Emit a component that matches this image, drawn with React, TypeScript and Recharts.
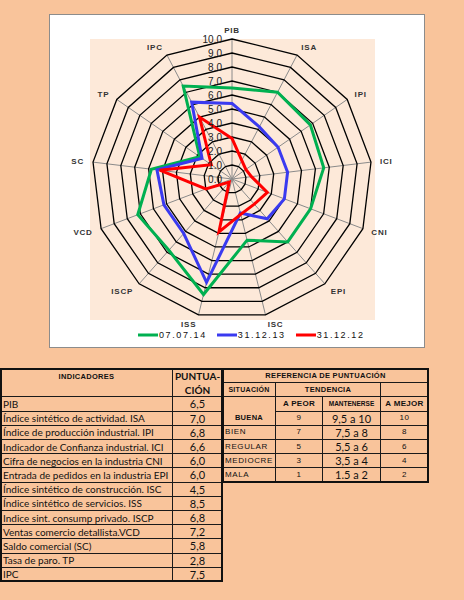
import { PolarAngleAxis, PolarGrid, PolarRadiusAxis, Radar, RadarChart } from "recharts";

// valores (escala 0-10)
const AXES = ["PIB", "ISA", "IPI", "ICI", "CNI", "EPI", "ISC", "ISS", "ISCP", "VCD", "SC", "TP", "IPC"];
const JUL_14 = [6.5, 7.0, 6.8, 6.6, 6.0, 6.0, 4.5, 8.5, 6.8, 7.2, 5.8, 2.8, 7.5];
const DEC_13 = [5.4, 4.2, 4.0, 4.0, 4.0, 3.8, 2.5, 7.6, 5.2, 5.2, 5.4, 2.6, 6.2];
const DEC_12 = [2.9, 1.5, 1.2, 1.4, 2.7, 2.4, 2.6, 3.9, 0.3, 2.0, 5.2, 1.8, 5.0];
const SERIES_NAMES = ["07.07.14", "31.12.13", "31.12.12"];
const SERIES_COLORS = ["#00B050", "#3A3AF0", "#FF0000"];
const RADIUS_TICKS = [0, 1, 2, 3, 4, 5, 6, 7, 8, 9, 10];

// tablas
const INDICATORS = [
  "PIB",
  "Índice sintético de actividad. ISA",
  "Índice de producción industrial. IPI",
  "Indicador de Confianza industrial. ICI",
  "Cifra de negocios en la industria CNI",
  "Entrada de pedidos en la industria EPI",
  "Índice sintético de construcción. ISC",
  "Índice sintético de servicios. ISS",
  "Indice sint. consump privado. ISCP",
  "Ventas comercio detallista.VCD",
  "Saldo comercial (SC)",
  "Tasa de paro. TP",
  "IPC",
];
const SITUACION = ["BUENA", "BIEN", "REGULAR", "MEDIOCRE", "MALA"];
const A_PEOR = ["9", "7", "5", "3", "1"];
const MANTENERSE = ["9,5 a 10", "7,5 a 8", "5,5 a 6", "3,5 a 4", "1.5 a 2"];
const A_MEJOR = ["10", "8", "6", "4", "2"];

const data = AXES.map((axis, i) => ({
  axis,
  jul14: JUL_14[i],
  dec13: DEC_13[i],
  dec12: DEC_12[i],
}));
const SERIES_KEYS = ["jul14", "dec13", "dec12"];

const PEACH = "#F9C49B";
const PLOT_BG = "#FDE9D9";
const SANS = "'Liberation Sans', Arial, sans-serif";
const BODY = "Lato, 'Open Sans', sans-serif";

function AngleTick({ x, y, payload, textAnchor }: any) {
  return (
    <text x={x} y={y} dy={3} textAnchor={textAnchor} fontSize={8} fontWeight="bold"
      fill="#333" letterSpacing={0.8} fontFamily={SANS}>
      {payload.value}
    </text>
  );
}

function RadiusTick({ x, y, payload }: any) {
  return (
    <text x={x - 10} y={y + 4} textAnchor="end" fontSize={10} fill="#222" fontFamily={SANS}>
      {Number(payload.value).toFixed(1)}
    </text>
  );
}

// ── tabla: celdas posicionadas en la rejilla de la hoja ──
const TOP = 368;
const ROW_H = 14.2;
const COL = {
  A: [0, 172],
  B: [172, 222],
  C: [222, 275],
  D: [275, 322],
  E: [322, 380],
  F: [380, 428],
};

function Cell({ c0, c1, r0, r1, children, align = "center", valign = "center", style }: any) {
  const x0 = COL[c0 as keyof typeof COL][0];
  const x1 = COL[c1 as keyof typeof COL][1];
  return (
    <div
      style={{
        position: "absolute",
        left: x0,
        top: TOP + r0 * ROW_H,
        width: x1 - x0 + 1,
        height: (r1 - r0 + 1) * ROW_H + 1,
        boxSizing: "border-box",
        border: "1px solid #1a1a1a",
        display: "flex",
        alignItems: valign,
        justifyContent: align,
        padding: "0 2px",
        color: "#111",
        fontFamily: BODY,
        fontSize: 10,
        lineHeight: 1,
        whiteSpace: "nowrap",
        overflow: "hidden",
        ...style,
      }}
    >
      {children}
    </div>
  );
}

const hdr = { fontFamily: SANS, fontWeight: "bold", fontSize: 7.5, letterSpacing: 0.3 };
const small = { fontFamily: SANS, fontSize: 8, letterSpacing: 0.6 };

function Tables() {
  return (
    <>
      {/* indicadores */}
      <Cell c0="A" c1="A" r0={0} r1={1} valign="flex-start" style={{ ...hdr, paddingTop: 4 }}>
        INDICADORES
      </Cell>
      <Cell c0="B" c1="B" r0={0} r1={1} style={{ flexDirection: "column", fontFamily: BODY, fontWeight: "bold", fontSize: 10, gap: 4 }}>
        <span>PUNTUA-</span>
        <span>CIÓN</span>
      </Cell>
      {INDICATORS.map((name, i) => (
        <Cell key={name} c0="A" c1="A" r0={i + 2} r1={i + 2} align="flex-start">
          {name}
        </Cell>
      ))}
      {JUL_14.map((v, i) => (
        <Cell key={"s" + i} c0="B" c1="B" r0={i + 2} r1={i + 2} style={{ fontSize: 11 }}>
          {v.toFixed(1).replace(".", ",")}
        </Cell>
      ))}

      {/* referencia */}
      <Cell c0="C" c1="F" r0={0} r1={0} style={hdr}>REFERENCIA DE PUNTUACIÓN</Cell>
      <Cell c0="C" c1="C" r0={1} r1={1} style={{ ...hdr, fontSize: 7 }}>SITUACIÓN</Cell>
      <Cell c0="D" c1="E" r0={1} r1={1} style={hdr}>TENDENCIA</Cell>
      <Cell c0="F" c1="F" r0={1} r1={1} />
      <Cell c0="C" c1="C" r0={2} r1={3} valign="flex-end" style={{ ...hdr, paddingBottom: 3 }}>
        {SITUACION[0]}
      </Cell>
      <Cell c0="D" c1="D" r0={2} r1={2} style={{ ...hdr, fontSize: 8 }}>A PEOR</Cell>
      <Cell c0="E" c1="E" r0={2} r1={2} style={{ ...hdr, fontSize: 6.5, letterSpacing: 0 }}>MANTENERSE</Cell>
      <Cell c0="F" c1="F" r0={2} r1={2} style={{ ...hdr, fontSize: 8 }}>A MEJOR</Cell>
      {SITUACION.slice(1).map((s, i) => (
        <Cell key={s} c0="C" c1="C" r0={i + 4} r1={i + 4} align="flex-start" style={small}>
          {s}
        </Cell>
      ))}
      {A_PEOR.map((v, i) => (
        <Cell key={"p" + i} c0="D" c1="D" r0={i + 3} r1={i + 3} style={small}>{v}</Cell>
      ))}
      {MANTENERSE.map((v, i) => (
        <Cell key={"m" + i} c0="E" c1="E" r0={i + 3} r1={i + 3} style={{ fontSize: 11 }}>{v}</Cell>
      ))}
      {A_MEJOR.map((v, i) => (
        <Cell key={"b" + i} c0="F" c1="F" r0={i + 3} r1={i + 3} style={small}>{v}</Cell>
      ))}

      {/* marcos exteriores */}
      <div style={{ position: "absolute", left: 0, top: TOP, width: 223, height: 15 * ROW_H + 1, border: "2px solid #111", boxSizing: "border-box" }} />
      <div style={{ position: "absolute", left: 222, top: TOP, width: 207, height: 8 * ROW_H + 1, border: "2px solid #111", boxSizing: "border-box" }} />
    </>
  );
}

export default function App() {
  return (
    <div style={{ position: "absolute", left: 0, top: 0, width: 464, height: 600, background: PEACH, overflow: "hidden" }}>
      {/* marco blanco del gráfico y área de trazado */}
      <div style={{ position: "absolute", left: 49, top: 14, width: 376, height: 334, background: "#fff", border: "1px solid #8c8c8c", boxSizing: "border-box" }} />
      <div style={{ position: "absolute", left: 90, top: 39, width: 285, height: 281, background: PLOT_BG }} />

      <div style={{ position: "absolute", left: 0, top: 0 }}>
        <RadarChart width={464} height={350} data={data} cx={232} cy={179} outerRadius={140}
          startAngle={90} endAngle={-270} margin={{ top: 0, right: 0, bottom: 0, left: 0 }}>
          <PolarGrid gridType="polygon" polarRadius={[]} stroke="#8a8a8a" strokeWidth={1} />
          <PolarGrid gridType="polygon" radialLines={false} stroke="#000" strokeWidth={1.3} />
          <PolarAngleAxis dataKey="axis" tick={<AngleTick />} tickLine={false} axisLine={false} tickSize={9} />
          <PolarRadiusAxis angle={90} domain={[0, 10]} tickCount={RADIUS_TICKS.length} ticks={RADIUS_TICKS as any}
            axisLine={false} tickLine={false} tick={<RadiusTick />} />
          {SERIES_KEYS.map((k, i) => (
            <Radar key={k} dataKey={k} name={SERIES_NAMES[i]} stroke={SERIES_COLORS[i]} strokeWidth={3}
              fill="none" fillOpacity={0} dot={false} isAnimationActive={false} />
          ))}
        </RadarChart>
      </div>

      {/* leyenda */}
      <div style={{ position: "absolute", left: 138, top: 330, display: "flex", alignItems: "center", fontFamily: SANS, fontSize: 9, letterSpacing: 1.6, color: "#111" }}>
        {SERIES_NAMES.map((name, i) => (
          <div key={name} style={{ display: "flex", alignItems: "center", marginRight: 10 }}>
            <svg width={20} height={8}>
              <line x1={0} y1={4} x2={20} y2={4} stroke={SERIES_COLORS[i]} strokeWidth={3} />
            </svg>
            <span style={{ marginLeft: 1 }}>{name}</span>
          </div>
        ))}
      </div>

      <Tables />
    </div>
  );
}
